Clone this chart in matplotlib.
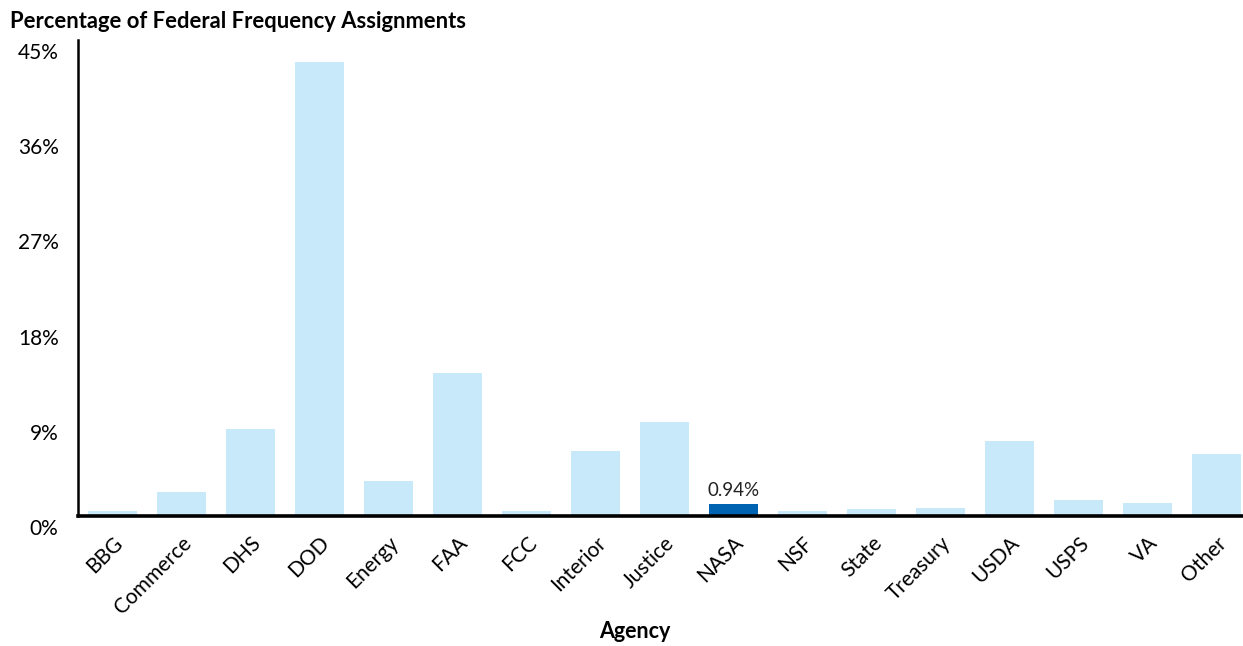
import matplotlib
matplotlib.use("Agg")
import matplotlib.pyplot as plt
from matplotlib.transforms import ScaledTranslation

plt.rcParams['font.family'] = ['Lato', 'DejaVu Sans']

agencies = ['BBG', 'Commerce', 'DHS', 'DOD', 'Energy', 'FAA', 'FCC', 'Interior',
            'Justice', 'NASA', 'NSF', 'State', 'Treasury', 'USDA', 'USPS', 'VA', 'Other']
share = [0.5, 2.3, 8.2, 42.9, 3.3, 13.5, 0.5, 6.1,
         8.85, 1.16, 0.5, 0.66, 0.73, 7.1, 1.48, 1.23, 5.86]
nasa_label = '0.94%'
yticks = [0, 9, 18, 27, 36, 45]

light = '#C8E9F9'
dark = '#0063B1'
colors = [dark if a == 'NASA' else light for a in agencies]

fig = plt.figure(figsize=(12.43, 6.46), dpi=100)
# right edge runs off the picture like in the original
ax = fig.add_axes([78/1243, 130/646, 1173/1243, 476/646])

x = range(len(agencies))
ax.bar(x, share, width=0.71, color=colors, edgecolor='none')
i = agencies.index('NASA')
ax.text(i, share[i] + 0.45, nasa_label, ha='center', va='bottom', fontsize=13.5, color='#222222')

ax.set_xlim(-0.5, len(agencies) - 0.5)
ax.set_ylim(0, 45)
ax.set_yticks(yticks)
ax.set_yticklabels([f'{t}%' for t in yticks], fontsize=15)
ax.set_xticks(list(x))
ax.set_xticklabels(agencies, rotation=45, ha='right', rotation_mode='anchor', fontsize=15)
ax.tick_params(axis='both', length=0)
ax.tick_params(axis='y', pad=14)
ax.tick_params(axis='x', pad=12)
# y labels sit a little below their gridline level, as in the source
shift = ScaledTranslation(0, -3/100, fig.dpi_scale_trans)
for lbl in ax.get_yticklabels():
    lbl.set_va('top')
    lbl.set_transform(lbl.get_transform() + shift)

ax.spines['top'].set_visible(False)
ax.spines['right'].set_visible(False)
ax.spines['left'].set_linewidth(1.8)
ax.spines['bottom'].set_linewidth(2.6)

fig.text(635/1243, 1 - 632/646, 'Agency', fontsize=15.5, fontweight='bold',
         ha='center', va='center')
fig.text(10/1243, 1 - 22/646, 'Percentage of Federal Frequency Assignments',
         fontsize=15.8, fontweight='bold', va='center', ha='left')

fig.savefig('out.png', dpi=100)
